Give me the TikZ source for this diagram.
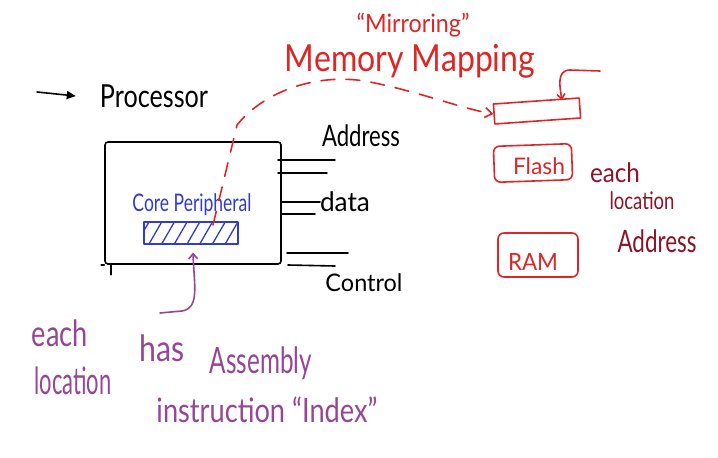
\documentclass[tikz,border=0pt]{standalone}
\usepackage{fontspec}
\setmainfont{Lato}
\usetikzlibrary{arrows.meta,patterns.meta,calc}
\definecolor{inkred}{RGB}{222,38,38}
\definecolor{inkdark}{RGB}{140,20,40}
\definecolor{inkpurple}{RGB}{150,70,150}
\definecolor{inkblue}{RGB}{50,60,200}
\newcommand{\fitwh}[3]{\resizebox*{#1}{#2}{#3}}
\begin{document}
\begin{tikzpicture}[x=1pt,y=-1pt,
  pen/.style={line width=1.6pt,line cap=round,line join=round},
  lbl/.style={inner sep=0pt,anchor=center},
  redbox/.style={draw=inkred,pen,rounded corners=6pt,inner sep=0pt}]
\useasboundingbox[fill=white] (0,0) rectangle (718,458);

% processor label and arrow
\node[lbl] (ptext) at (154,96) {\fitwh{108pt}{23pt}{Processor}};
\coordinate (pa) at (37,92);
\draw[pen,-{Triangle[length=9pt,width=8pt]}] (pa) -- ($(ptext.west)+(-24,0)$);

% processor box
\node[draw,pen,minimum width=176pt,minimum height=122pt,rounded corners=3pt] (proc) at (193,203) {};
\draw[pen] ($(proc.south west)+(7,0)$) -- ++(0,10);
\draw[pen] (proc.south west) -- ++(-3,0);

% buses
\coordinate (a1) at (278,160); \coordinate (a2) at (278,173);
\coordinate (d1) at (282,202); \coordinate (d2) at (282,214);
\coordinate (c1) at (287,253); \coordinate (c2) at (288,265);
\draw[pen] (a1) -- ++(57,0);
\draw[pen] (a2) -- ++(49,0);
\draw[pen] (d1) -- ++(38,0);
\draw[pen] (d2) -- ++(33,0);
\draw[pen] (c1) -- ++(61,0);
\draw[pen] (c2) -- ++(47,1);
\node[lbl] (addr) at (361,136) {\fitwh{78pt}{22pt}{Address}};
\node[lbl] (data) at (345,202) {\fitwh{50pt}{20pt}{data}};
\node[lbl] (ctrl) at (364,283) {\fitwh{77pt}{18pt}{Control}};

% core peripheral
\node[lbl,text=inkblue] (cp) at (192,205) {\fitwh{119pt}{22pt}{Core Peripheral}};
\node[draw=inkblue,pen,minimum width=94pt,minimum height=22pt,
  pattern={Lines[angle=60,distance=11pt,line width=1.3pt]},pattern color=inkblue] (hatch) at (191,233) {};

% mirroring memory mapping
\node[lbl,text=inkred] (mir) at (413,25) {\fitwh{113pt}{24pt}{“Mirroring”}};
\node[lbl,text=inkred] (mm) at (410,61) {\fitwh{250pt}{34pt}{Memory Mapping}};
\node[draw=inkred,pen,minimum width=86pt,minimum height=20pt,rotate=4] (mbox) at (537,111) {};
\coordinate (ds) at (213,225);
\draw[inkred,pen,dash pattern=on 14pt off 11pt,-{Straight Barb[length=7pt,width=10pt]}]
  (ds) -- (237,125) .. controls (265,90) and (320,72) .. (370,82)
  .. controls (420,92) and (460,108) .. (mbox.west);
\coordinate (hk) at (600,71);
\draw[inkred,pen,-{Straight Barb[length=5pt,width=8pt]}] (hk) -- (570,70)
  .. controls (556,70) and (560,88) .. (mbox.north -| 562,0);

% flash / RAM
\node[redbox,minimum width=78pt,minimum height=36pt,rotate=2] (flash) at (533,163) {};
\node[lbl,text=inkred] (flt) at (539,166) {\fitwh{52pt}{17pt}{Flash}};
\node[redbox,minimum width=80pt,minimum height=44pt] (ram) at (538,255) {};
\node[lbl,text=inkred] (ramt) at (533,262) {\fitwh{50pt}{17pt}{RAM}};

% right dark-red note
\node[lbl,text=inkdark] (e1) at (615,173) {\fitwh{50pt}{20pt}{each}};
\node[lbl,text=inkdark] (l1) at (642,201) {\fitwh{65pt}{18pt}{location}};
\node[lbl,text=inkdark] (ad1) at (657,241) {\fitwh{79pt}{23pt}{Address}};

% bottom purple note
\coordinate (pstart) at (160,313);
\draw[inkpurple,pen,-{Straight Barb[length=5pt,width=9pt]}] (pstart) -- (182,311)
  .. controls (200,308) and (194,285) .. ($(hatch.south)+(2,8)$);
\node[lbl,text=inkpurple] (e2) at (60,333) {\fitwh{56pt}{27pt}{each}};
\node[lbl,text=inkpurple] (l2) at (73,381) {\fitwh{77pt}{28pt}{location}};
\node[lbl,text=inkpurple] (has) at (162,348) {\fitwh{45pt}{27pt}{has}};
\node[lbl,text=inkpurple] (asm) at (261,363) {\fitwh{102pt}{33pt}{Assembly}};
\node[lbl,text=inkpurple] (ins) at (267,410) {\fitwh{221pt}{26pt}{instruction “Index”}};
\end{tikzpicture}
\end{document}
